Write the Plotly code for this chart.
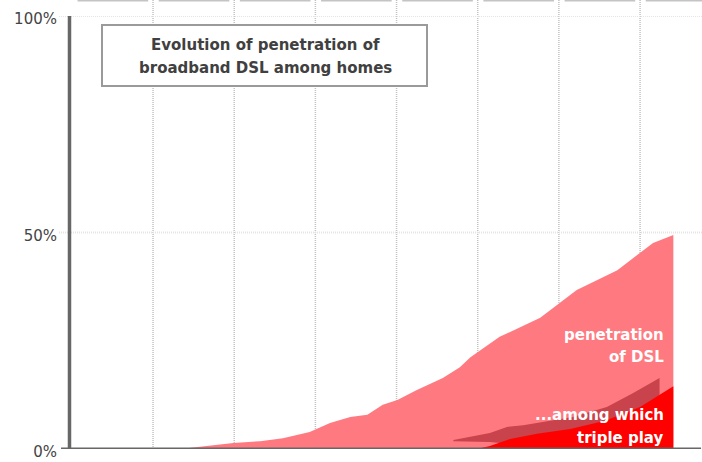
import plotly.graph_objects as go

# ---- data ----
dsl_years = [2000.33, 2000.99, 2001.32, 2001.60, 2001.93, 2002.18, 2002.43, 2002.64, 2002.83,
             2003.01, 2003.25, 2003.57, 2003.78, 2003.91, 2004.27, 2004.77, 2005.22, 2005.72,
             2006.16, 2006.41]
dsl_pct = [0, 1.4, 1.8, 2.5, 3.9, 6.0, 7.4, 7.9, 10.2, 11.3, 13.6, 16.4, 18.9, 21.2, 25.9,
           30.3, 36.7, 41.3, 47.6, 49.4]

triple_years = [2003.99, 2004.15, 2004.40, 2004.73, 2005.14, 2005.57, 2006.00, 2006.41]
triple_pct = [0, 0.7, 2.3, 3.5, 4.6, 6.5, 9.7, 14.5]

# back face (3D depth) of the triple-play area
depth_years = [2003.70, 2004.15, 2004.36, 2004.56, 2005.17, 2005.59, 2005.91, 2006.24]
depth_top = [2.1, 3.7, 5.1, 5.5, 7.4, 9.7, 12.9, 16.4]
depth_bottom = [1.8, 1.6, 1.2, 0, 0, 0, 0, 0]

grid_years = [2000, 2001, 2002, 2003, 2004, 2005, 2006]
band_years = [1999, 2000, 2001, 2002, 2003, 2004, 2005, 2006]
y_ticks = [0, 50, 100]
y_grid = [50, 100]

title_lines = ["Evolution of penetration of", "broadband DSL among homes"]
dsl_label = ["penetration", "of DSL"]
triple_label = ["...among which", "triple play"]

PINK = "#ff7a80"
DARK = "#c8434b"
RED = "#ff0000"
FONT = "DejaVu Sans"

fig = go.Figure()

fig.add_trace(go.Scatter(x=dsl_years, y=dsl_pct, mode="lines", fill="tozeroy",
                         line=dict(width=0, color=PINK), fillcolor=PINK,
                         showlegend=False, hoverinfo="skip"))
fig.add_trace(go.Scatter(x=depth_years, y=depth_bottom, mode="lines",
                         line=dict(width=0, color=DARK), showlegend=False, hoverinfo="skip"))
fig.add_trace(go.Scatter(x=depth_years, y=depth_top, mode="lines", fill="tonexty",
                         line=dict(width=0, color=DARK), fillcolor=DARK,
                         showlegend=False, hoverinfo="skip"))
fig.add_trace(go.Scatter(x=triple_years, y=triple_pct, mode="lines", fill="tozeroy",
                         line=dict(width=0, color=RED), fillcolor=RED,
                         showlegend=False, hoverinfo="skip"))

shapes = []
# vertical dotted gridlines (extend up to the top edge)
for yr in grid_years:
    shapes.append(dict(type="line", xref="x", yref="paper", x0=yr, x1=yr, y0=0, y1=1.037,
                       line=dict(color="#c2c2c2", width=1.5, dash="1px,1px"), layer="below"))
# horizontal gridlines
for v in y_grid:
    shapes.append(dict(type="line", xref="paper", yref="y", x0=-0.0175, x1=1, y0=v, y1=v,
                       line=dict(color="#e4e4e4", width=2, dash="1px,1px"), layer="below"))
# cut-off boxes at the very top
for yr in band_years:
    shapes.append(dict(type="line", xref="x", yref="paper", x0=yr + 0.07, x1=yr + 0.94,
                       y0=1.0355, y1=1.0355, line=dict(color="#c4c4c4", width=1.5),
                       layer="below"))
# axis lines
shapes.append(dict(type="line", xref="paper", yref="y", x0=-0.0008, x1=-0.0008, y0=0, y1=100,
                   line=dict(color="#676767", width=3.5), layer="above"))
shapes.append(dict(type="line", xref="paper", yref="y", x0=-0.0142, x1=0.9985, y0=0, y1=0,
                   line=dict(color="#676767", width=3), layer="above"))
# title box
shapes.append(dict(type="rect", xref="paper", yref="paper",
                   x0=(102 - 70) / 632, x1=(427 - 70) / 632,
                   y0=(449 - 86) / 433, y1=(449 - 25) / 433,
                   line=dict(color="#9a9a9a", width=2), fillcolor="white", layer="above"))

annotations = []
for i, (txt, py) in enumerate(zip(title_lines, [45, 68])):
    annotations.append(dict(text=txt, xref="paper", yref="paper", x=(265 - 70) / 632,
                            y=(449 - py) / 433, xanchor="center", yanchor="middle",
                            showarrow=False,
                            font=dict(family=FONT, size=15, color="#404040", weight="bold")))
for txt, v in zip(dsl_label, [26.3, 21.2]):
    annotations.append(dict(text=txt, xref="x", yref="y", x=2006.32, y=v, xanchor="right",
                            yanchor="middle", showarrow=False,
                            font=dict(family=FONT, size=15, color="white", weight="bold")))
for txt, v in zip(triple_label, [7.85, 2.5]):
    annotations.append(dict(text=txt, xref="x", yref="y", x=2006.32, y=v, xanchor="right",
                            yanchor="middle", showarrow=False,
                            font=dict(family=FONT, size=15, color="white", weight="bold")))

fig.update_layout(
    width=702, height=462,
    margin=dict(l=70, r=0, t=16, b=13),
    paper_bgcolor="white", plot_bgcolor="white",
    showlegend=False,
    shapes=shapes,
    annotations=annotations,
    xaxis=dict(range=[1998.977, 2006.763], showgrid=False, zeroline=False,
               showticklabels=False, showline=False, fixedrange=True),
    yaxis=dict(range=[0, 100], tickvals=y_ticks, ticktext=[f"{t}%" for t in y_ticks],
               showgrid=False, zeroline=False, showline=False, ticks="",
               ticklabelstandoff=12, ticklabelshift=3,
               tickfont=dict(family=FONT, size=15, color="#444444"), fixedrange=True),
)

fig.write_html("out.html")
